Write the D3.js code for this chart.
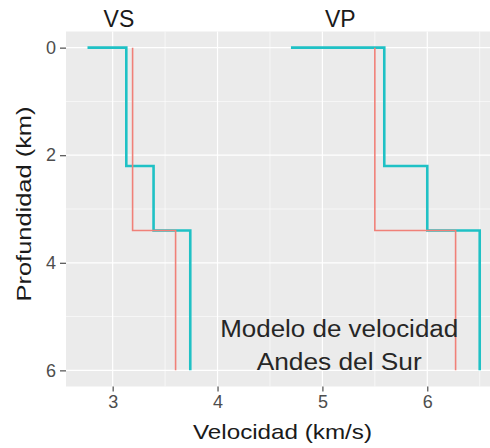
<!DOCTYPE html>
<html>
<head>
<meta charset="utf-8">
<script src="https://cdn.jsdelivr.net/npm/d3@7"></script>
<style>
  html, body { margin: 0; padding: 0; background: #fff; }
  svg { display: block; font-family: "Liberation Sans", Arial, Helvetica, sans-serif; }
</style>
</head>
<body>
<div id="chart"></div>
<script>
// ---- data ----
const xTicks = [3, 4, 5, 6];
const xMinor = [3.5, 4.5, 5.5, 6.5];
const yTicks = [0, 2, 4, 6];
const yMinor = [1, 3, 5];

// VS profiles (velocity km/s, depth km)
const vsRedVel   = [3.19, 3.19, 3.60, 3.60];
const vsRedDepth = [0, 3.4, 3.4, 6];
const vsTealVel   = [2.76, 3.13, 3.13, 3.39, 3.39, 3.74, 3.74];
const vsTealDepth = [0, 0, 2.2, 2.2, 3.4, 3.4, 6];

// VP profiles
const vpRedVel   = [5.50, 5.50, 6.27, 6.27];
const vpRedDepth = [0, 3.4, 3.4, 6];
const vpTealVel   = [4.70, 5.59, 5.59, 6.00, 6.00, 6.50, 6.50];
const vpTealDepth = [0, 0, 2.2, 2.2, 3.4, 3.4, 6];

const panelTitles = ["VS", "VP"];
const panelTitleX = [3.06, 5.17];
const noteLines = ["Modelo de velocidad", "Andes del Sur"];
const noteX = 5.16;

// ---- layout ----
const W = 490, H = 448;
const svg = d3.select("#chart").append("svg").attr("width", W).attr("height", H);

const x = d3.scaleLinear().domain([2.555, 6.6]).range([66, 490.2]);
const y = d3.scaleLinear().domain([-0.3, 6.3]).range([31.5, 386.5]);

// panel
svg.append("rect")
  .attr("x", x.range()[0]).attr("y", y.range()[0])
  .attr("width", x.range()[1] - x.range()[0])
  .attr("height", y.range()[1] - y.range()[0])
  .attr("fill", "#EBEBEB");

const grid = svg.append("g");
grid.selectAll(".vmin").data(xMinor).join("line")
  .attr("x1", d => x(d)).attr("x2", d => x(d))
  .attr("y1", y.range()[0]).attr("y2", y.range()[1])
  .attr("stroke", "#fff").attr("stroke-width", 0.6);
grid.selectAll(".hmin").data(yMinor).join("line")
  .attr("y1", d => y(d)).attr("y2", d => y(d))
  .attr("x1", x.range()[0]).attr("x2", x.range()[1])
  .attr("stroke", "#fff").attr("stroke-width", 0.6);
grid.selectAll(".vmaj").data(xTicks).join("line")
  .attr("x1", d => x(d)).attr("x2", d => x(d))
  .attr("y1", y.range()[0]).attr("y2", y.range()[1])
  .attr("stroke", "#fff").attr("stroke-width", 1.2);
grid.selectAll(".hmaj").data(yTicks).join("line")
  .attr("y1", d => y(d)).attr("y2", d => y(d))
  .attr("x1", x.range()[0]).attr("x2", x.range()[1])
  .attr("stroke", "#fff").attr("stroke-width", 1.2);

// axes
const xAxis = d3.axisBottom(x).tickValues(xTicks).tickSize(5).tickPadding(4).tickFormat(d3.format("d"));
const gx = svg.append("g").attr("transform", `translate(0,${y.range()[1]})`).call(xAxis);
gx.select(".domain").remove();
gx.selectAll(".tick line").attr("stroke", "#4D4D4D").attr("stroke-width", 1.2);
gx.selectAll(".tick text").attr("fill", "#4D4D4D").attr("font-size", 18)
  .attr("font-family", "Liberation Sans, Arial, sans-serif");

const yAxis = d3.axisLeft(y).tickValues(yTicks).tickSize(6).tickPadding(4).tickFormat(d3.format("d"));
const gy = svg.append("g").attr("transform", `translate(${x.range()[0]},0)`).call(yAxis);
gy.select(".domain").remove();
gy.selectAll(".tick line").attr("stroke", "#4D4D4D").attr("stroke-width", 1.2);
gy.selectAll(".tick text").attr("fill", "#4D4D4D").attr("font-size", 18)
  .attr("font-family", "Liberation Sans, Arial, sans-serif");

// lines
const line = d3.line().x(d => x(d[0])).y(d => y(d[1]));
const series = [
  { vel: vsTealVel, depth: vsTealDepth, color: "#1FC1C5", w: 2.6 },
  { vel: vpTealVel, depth: vpTealDepth, color: "#1FC1C5", w: 2.6 },
  { vel: vsRedVel, depth: vsRedDepth, color: "#F08078", w: 1.6 },
  { vel: vpRedVel, depth: vpRedDepth, color: "#F08078", w: 1.6 }
];
svg.append("g").selectAll("path").data(series).join("path")
  .attr("d", s => line(s.vel.map((v, i) => [v, s.depth[i]])))
  .attr("fill", "none")
  .attr("stroke", s => s.color)
  .attr("stroke-width", s => s.w)
  .attr("stroke-linejoin", "miter");

// panel titles
svg.append("g").selectAll("text").data(panelTitles).join("text")
  .attr("x", (d, i) => x(panelTitleX[i]))
  .attr("y", 26.5)
  .attr("text-anchor", "middle")
  .attr("font-size", 23)
  .attr("fill", "#1A1A1A")
  .text(d => d);

// annotation
const noteLen = [238, 165];
const noteBase = [337, 370];
svg.append("g").selectAll("text").data(noteLines).join("text")
  .attr("x", x(noteX))
  .attr("y", (d, i) => noteBase[i])
  .attr("text-anchor", "middle")
  .attr("font-size", 23.5)
  .attr("fill", "#262626")
  .attr("textLength", (d, i) => noteLen[i])
  .attr("lengthAdjust", "spacingAndGlyphs")
  .text(d => d);

// axis titles
svg.append("text")
  .attr("x", 282.5).attr("y", 438.5)
  .attr("text-anchor", "middle")
  .attr("font-size", 21)
  .attr("fill", "#1A1A1A")
  .attr("textLength", 179)
  .attr("lengthAdjust", "spacingAndGlyphs")
  .text("Velocidad (km/s)");

svg.append("text")
  .attr("transform", "translate(31,204) rotate(-90)")
  .attr("text-anchor", "middle")
  .attr("font-size", 21)
  .attr("fill", "#1A1A1A")
  .attr("textLength", 195)
  .attr("lengthAdjust", "spacingAndGlyphs")
  .text("Profundidad (km)");
</script>
</body>
</html>
